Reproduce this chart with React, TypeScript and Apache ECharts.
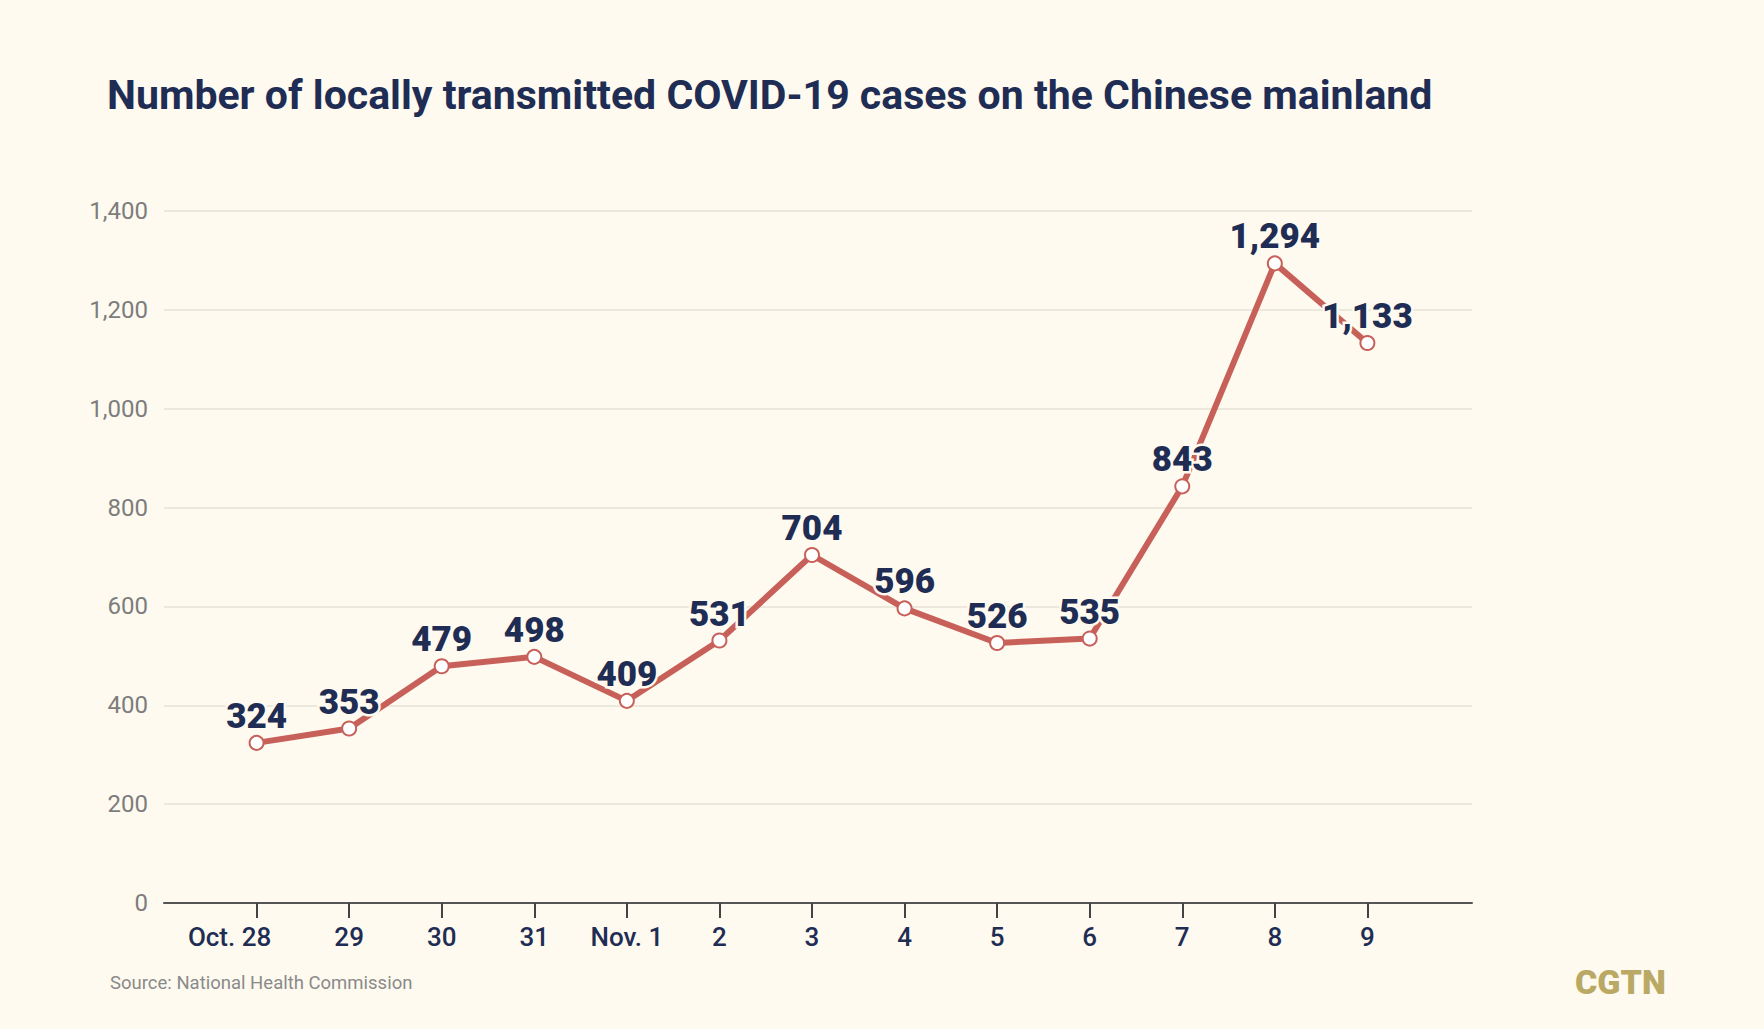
import React, { useEffect, useRef } from "react";
import * as echarts from "echarts";

const categories = ["Oct. 28", "29", "30", "31", "Nov. 1", "2", "3", "4", "5", "6", "7", "8", "9"];
const cases = [324, 353, 479, 498, 409, 531, 704, 596, 526, 535, 843, 1294, 1133];
const yTicks = [0, 200, 400, 600, 800, 1000, 1200, 1400];

const titleText = "Number of locally transmitted COVID-19 cases on the Chinese mainland";
const sourceText = "Source: National Health Commission";
const logoText = "CGTN";

const BG = "#fefaef";
const NAVY = "#1f2d55";
const RED = "#c8605a";

export default function App() {
  const ref = useRef<HTMLDivElement>(null);
  useEffect(() => {
    const chart = echarts.init(ref.current!, null, { renderer: "svg" });
    const idx = categories.map((_, i) => i);
    const xFont = { color: NAVY, fontFamily: "Roboto", fontWeight: 500, fontSize: 26 };
    chart.setOption({
      animation: false,
      backgroundColor: BG,
      grid: { left: 164, right: 292, top: 211, bottom: 126, containLabel: false },
      xAxis: {
        type: "value",
        min: -1,
        max: 13.13,
        splitLine: { show: false },
        axisLine: { show: true, lineStyle: { color: "#555", width: 2 } },
        axisTick: { show: true, length: 15, lineStyle: { color: "#444", width: 2 }, customValues: idx },
        axisLabel: {
          customValues: idx,
          formatter: (v: number) => {
            const i = Math.round(v);
            const t = categories[i] ?? "";
            return i === 0 ? "{first|" + t + "}" : "{n|" + t + "}";
          },
          ...xFont,
          margin: 21,
          rich: {
            first: { ...xFont, padding: [0, 54, 0, 0] },
            n: { ...xFont },
          },
        },
      },
      yAxis: {
        type: "value",
        min: 0,
        max: 1400,
        interval: 200,
        axisLine: { show: false },
        axisTick: { show: false },
        splitLine: { lineStyle: { color: "#e6e2d6", width: 1.5 } },
        axisLabel: {
          formatter: (v: number) => (yTicks.includes(v) ? v.toLocaleString("en-US") : ""),
          color: "#7d7d7d",
          fontFamily: "Roboto",
          fontSize: 24,
          margin: 16,
        },
      },
      series: [
        {
          type: "line",
          data: cases.map((v, i) => [i, v]),
          lineStyle: { color: RED, width: 6 },
          symbol: "circle",
          symbolSize: 14,
          itemStyle: { color: "#ffffff", borderColor: RED, borderWidth: 2 },
          label: {
            show: true,
            position: "top",
            distance: 1,
            formatter: (p: any) => cases[p.dataIndex].toLocaleString("en-US"),
            color: NAVY,
            fontFamily: "Roboto",
            fontWeight: 900,
            fontSize: 35,
            textBorderColor: BG,
            textBorderWidth: 5,
          },
          z: 3,
        },
      ],
      graphic: [
        {
          type: "text",
          x: 107,
          y: 95,
          style: {
            text: titleText,
            fill: NAVY,
            verticalAlign: "middle",
            font: "bold 41px Roboto",
          },
        },
        {
          type: "text",
          x: 110,
          y: 983,
          style: { text: sourceText, fill: "#8a8a8a", verticalAlign: "middle", font: "18.5px Roboto" },
        },
        {
          type: "text",
          x: 1575,
          y: 982,
          style: { text: logoText, fill: "#b9a965", verticalAlign: "middle", font: "900 34px Roboto" },
        },
      ],
    });
    return () => chart.dispose();
  }, []);
  return <div ref={ref} style={{ width: 1764, height: 1029, position: "absolute", left: 0, top: 0 }} />;
}
